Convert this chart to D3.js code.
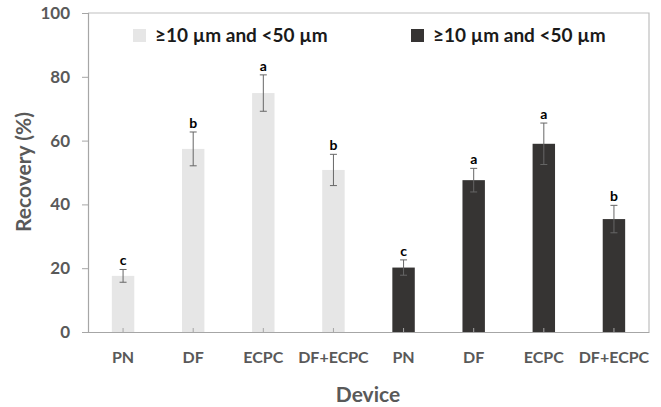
<!DOCTYPE html>
<html><head><meta charset="utf-8">
<script src="https://cdn.jsdelivr.net/npm/d3@7"></script>
<style>body{margin:0;background:#fff}svg{display:block}text{font-family:Lato,"Open Sans",sans-serif}</style>
</head><body><svg id="c" width="661" height="407"></svg>
<script>
const categories = ["PN","DF","ECPC","DF+ECPC","PN","DF","ECPC","DF+ECPC"];
const groups = ["light","light","light","light","dark","dark","dark","dark"];
const values = [17.6, 57.4, 74.9, 50.8, 20.2, 47.6, 59.0, 35.4];
const errors = [2.0, 5.3, 5.7, 4.9, 2.4, 3.7, 6.5, 4.3];
const letters = ["c","b","a","b","c","a","a","b"];
const legendLabels = ["≥10 µm and <50 µm","≥10 µm and <50 µm"];
const yTicks = [0,20,40,60,80,100];

const colors = {light:"#e6e6e6", dark:"#363433"};
const svg = d3.select("#c");
const m = {l:88, t:13, r:649, b:332};
const idx = d3.range(categories.length);
const x = d3.scaleBand().domain(idx).range([m.l, m.r]).paddingInner(0).paddingOuter(0);
const y = d3.scaleLinear().domain([0,100]).range([m.b, m.t]);
const bw = x.bandwidth()*0.32;

// frame
svg.append("path").attr("d",`M${m.l},${m.t}H${m.r}V${m.b}`).attr("fill","none").attr("stroke","#bfbfbf").attr("stroke-width",1.2);

// bars
svg.selectAll("rect.bar").data(idx).join("rect").attr("class","bar")
  .attr("x",i=>x(i)+x.bandwidth()/2-bw/2).attr("width",bw)
  .attr("y",i=>y(values[i])).attr("height",i=>y(0)-y(values[i]))
  .attr("fill",i=>colors[groups[i]]);

// error bars
const eg = svg.append("g").attr("stroke","#666").attr("stroke-width",1);
idx.forEach(i=>{
  const cx = x(i)+x.bandwidth()/2;
  const t = y(values[i]+errors[i]), bo = y(values[i]-errors[i]);
  eg.append("line").attr("x1",cx).attr("x2",cx).attr("y1",t).attr("y2",bo);
  eg.append("line").attr("x1",cx-3.5).attr("x2",cx+3.5).attr("y1",t).attr("y2",t);
  eg.append("line").attr("x1",cx-3.5).attr("x2",cx+3.5).attr("y1",bo).attr("y2",bo);
  svg.append("text").attr("x",cx).attr("y",t-4).attr("text-anchor","middle")
    .attr("font-size",14).attr("font-weight","bold").attr("fill","#000").text(letters[i]);
});

// y axis
const ya = svg.append("g").attr("transform",`translate(${m.l},0)`)
  .call(d3.axisLeft(y).tickValues(yTicks).tickSize(6).tickPadding(12));
ya.select(".domain").attr("stroke","#a6a6a6").attr("stroke-width",1.2);
ya.selectAll(".tick line").attr("stroke","#a6a6a6");
ya.selectAll("text").attr("font-size",17).attr("font-weight","bold").attr("fill","#595959").attr("font-family","Lato");

// x axis
const xa = svg.append("g").attr("transform",`translate(0,${m.b})`)
  .call(d3.axisBottom(x).tickFormat(i=>categories[i]).tickSize(-4).tickPadding(20).tickSizeOuter(0));
xa.select(".domain").attr("stroke","#a6a6a6").attr("stroke-width",1.2);
xa.selectAll(".tick line").attr("stroke","#a6a6a6");
xa.selectAll("text").attr("font-size",16).attr("font-weight","bold").attr("fill","#595959").attr("font-family","Lato");

// axis titles
svg.append("text").attr("x",368).attr("y",402).attr("text-anchor","middle")
  .attr("font-size",21).attr("font-weight","bold").attr("fill","#595959").text("Device");
svg.append("text").attr("transform","translate(31,172) rotate(-90)").attr("text-anchor","middle")
  .attr("font-size",21).attr("font-weight","bold").attr("fill","#595959").text("Recovery (%)");

// legend
const legX = [133, 411];
legendLabels.forEach((lab,k)=>{
  const g = svg.append("g");
  g.append("rect").attr("x",legX[k]).attr("y",29).attr("width",13).attr("height",13)
    .attr("fill",colors[k===0?"light":"dark"]);
  g.append("text").attr("x",legX[k]+22).attr("y",42).attr("font-size",19).attr("font-weight","bold")
    .attr("fill","#1a1a1a").text(lab);
});
</script></body></html>
